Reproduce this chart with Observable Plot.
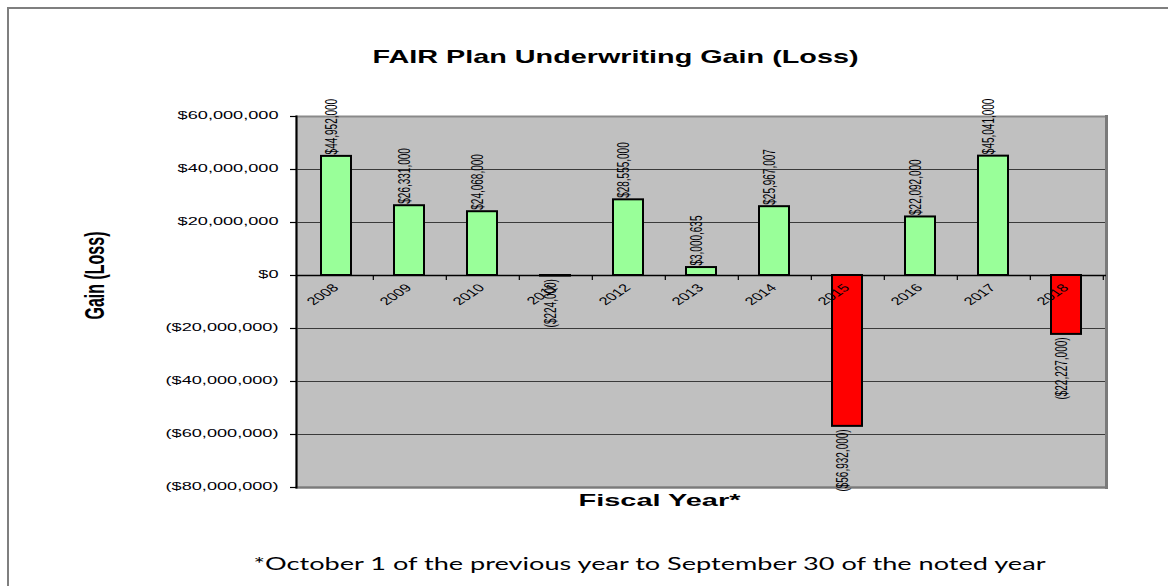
<!DOCTYPE html>
<html>
<head>
<meta charset="utf-8">
<script src="https://cdn.jsdelivr.net/npm/d3@7"></script>
<script src="https://cdn.jsdelivr.net/npm/@observablehq/plot@0.6"></script>
<style>
  html, body { margin: 0; padding: 0; background: #fff; }
  #wrap { position: relative; width: 1168px; height: 586px; overflow: hidden; }
  #border { position: absolute; left: 7px; top: 7px; width: 1200px; height: 700px;
            border-left: 2px solid #7f7f7f; border-top: 2px solid #7f7f7f; box-sizing: border-box; }
  #chart { position: absolute; left: 0; top: 0; }
</style>
</head>
<body>
<div id="wrap"><div id="border"></div><div id="chart"></div></div>
<script>
const years = ["2008","2009","2010","2011","2012","2013","2014","2015","2016","2017","2018"];
const values = [44952000, 26331000, 24068000, -224000, 28555000, 3000635, 25967007, -56932000, 22092000, 45041000, -22227000];
const valueLabels = ["$44,952,000","$26,331,000","$24,068,000","($224,000)","$28,555,000","$3,000,635","$25,967,007","($56,932,000)","$22,092,000","$45,041,000","($22,227,000)"];
const yTicks = [-80000000, -60000000, -40000000, -20000000, 0, 20000000, 40000000, 60000000];
const gridTicks = [-60000000, -40000000, -20000000, 20000000, 40000000];
const titleText = "FAIR Plan Underwriting Gain (Loss)";
const xTitle = "Fiscal Year*";
const yTitle = "Gain (Loss)";
const footnote = "*October 1 of the previous year to September 30 of the noted year";

const data = years.map((year, i) => ({year, value: values[i], label: valueLabels[i]}));
const pos = data.filter(d => d.value >= 0);
const neg = data.filter(d => d.value < 0);

const fmtY = v => v === 0 ? "$0" : v > 0 ? "$" + d3.format(",")(v) : "($" + d3.format(",")(-v) + ")";

const W = 1168, H = 586, mL = 296, mR = 62, mT = 116, mB = 99;
const step = (W - mL - mR) / years.length;

// near-black fills used as unique handles for post-processing
const C_TITLE = "#000001", C_XT = "#000002", C_FOOT = "#000003", C_YT = "#000004", C_YEAR = "#000005", C_VAL = "#000006", C_YAX = "#000007";

const chart = Plot.plot({
  width: W, height: H,
  marginLeft: mL, marginRight: mR, marginTop: mT, marginBottom: mB,
  style: {fontFamily: "'Liberation Sans', Arial, sans-serif", fontSize: "11px", background: "transparent", overflow: "visible", color: "#000"},
  x: {type: "band", domain: years, paddingInner: 0.59, paddingOuter: 0.295, axis: null},
  y: {domain: [-80000000, 60000000], axis: null},
  marks: [
    Plot.frame({fill: "#c0c0c0"}),
    Plot.gridY(gridTicks, {stroke: "#3a3a3a", strokeOpacity: 1, strokeWidth: 1}),
    Plot.frame({stroke: "#8a8a8a", strokeWidth: 2}),
    Plot.frame({anchor: "right", stroke: "#7a7a7a", strokeWidth: 3}),
    Plot.frame({anchor: "bottom", stroke: "#7a7a7a", strokeWidth: 2}),
    Plot.frame({anchor: "left", stroke: "#000", strokeWidth: 2}),
    Plot.ruleY([0], {stroke: "#000", strokeWidth: 1.5}),
    Plot.ruleX(years, {x: d => d, dx: step / 2, y1: 0, y2: 0, insetBottom: -5, stroke: "#000", strokeWidth: 1.2}),
    Plot.axisY({ticks: yTicks, tickFormat: fmtY, tickSize: 6, tickPadding: 12, fontSize: 11, stroke: "#000", strokeWidth: 1.2, fill: C_YAX, label: null}),
    Plot.barY(data, {x: "year", y: "value", fill: d => d.value >= 0 ? "#99ff99" : "#ff0000", stroke: "#000", strokeWidth: 2}),
    Plot.text(data, {x: "year", y: 0, text: "year", rotate: -45, textAnchor: "end", fontSize: 11, dx: 3, dy: 13, fill: C_YEAR}),
    Plot.text(pos, {x: "year", y: "value", text: "label", rotate: -90, textAnchor: "start", fontSize: 10, dy: -2, fill: C_VAL}),
    Plot.text(neg, {x: "year", y: "value", text: "label", rotate: -90, textAnchor: "end", fontSize: 10, dy: 3, fill: C_VAL}),
    Plot.text([titleText], {frameAnchor: "top-left", text: d => d, dx: 319, dy: -54, lineAnchor: "bottom", textAnchor: "middle", fontSize: 19, fontWeight: "bold", fill: C_TITLE}),
    Plot.text([xTitle], {frameAnchor: "top-left", text: d => d, dx: 363, dy: 389, lineAnchor: "bottom", textAnchor: "middle", fontSize: 17, fontWeight: "bold", fill: C_XT}),
    Plot.text([footnote], {frameAnchor: "top-left", text: d => d, dx: 353, dy: 453, lineAnchor: "bottom", textAnchor: "middle", fontSize: 18, fontFamily: "Lato, 'Open Sans', sans-serif", fill: C_FOOT}),
    Plot.text([yTitle], {frameAnchor: "top-left", text: d => d, dx: -193, dy: 159, rotate: -90, textAnchor: "middle", fontSize: 16, fontWeight: "bold", fill: C_YT})
  ]
});

document.getElementById("chart").appendChild(chart);

function texts(color) {
  const out = [];
  chart.querySelectorAll("g").forEach(g => {
    if ((g.getAttribute("fill") || "").toLowerCase() === color) g.querySelectorAll("text").forEach(t => out.push(t));
  });
  chart.querySelectorAll("text").forEach(t => {
    if ((t.getAttribute("fill") || "").toLowerCase() === color && !out.includes(t)) out.push(t);
  });
  return out;
}
function stretch(color, k, shiftY = 0) {
  texts(color).forEach(t => {
    let tr = t.getAttribute("transform") || "";
    if (t.hasAttribute("x") || t.hasAttribute("y")) {
      const x = +t.getAttribute("x") || 0, y = +t.getAttribute("y") || 0;
      t.removeAttribute("x"); t.removeAttribute("y");
      tr = `translate(${x},${y}) ` + tr;
    }
    if (/rotate\(/.test(tr)) tr = tr.replace(/rotate\(/, `scale(${k},1) rotate(`);
    else tr = tr + ` scale(${k},1)`;
    if (shiftY) tr = `translate(0,${shiftY}) ` + tr;
    t.setAttribute("transform", tr);
  });
}
function fitLength(color, len) {
  texts(color).forEach(t => {
    t.setAttribute("textLength", len);
    t.setAttribute("lengthAdjust", "spacingAndGlyphs");
  });
}
stretch(C_YAX, 1.65, 2);
stretch(C_YEAR, 1.5);
stretch(C_VAL, 1.6);
stretch(C_YT, 1.7);
fitLength(C_TITLE, 486);
fitLength(C_XT, 162);
fitLength(C_FOOT, 792);
</script>
</body>
</html>
